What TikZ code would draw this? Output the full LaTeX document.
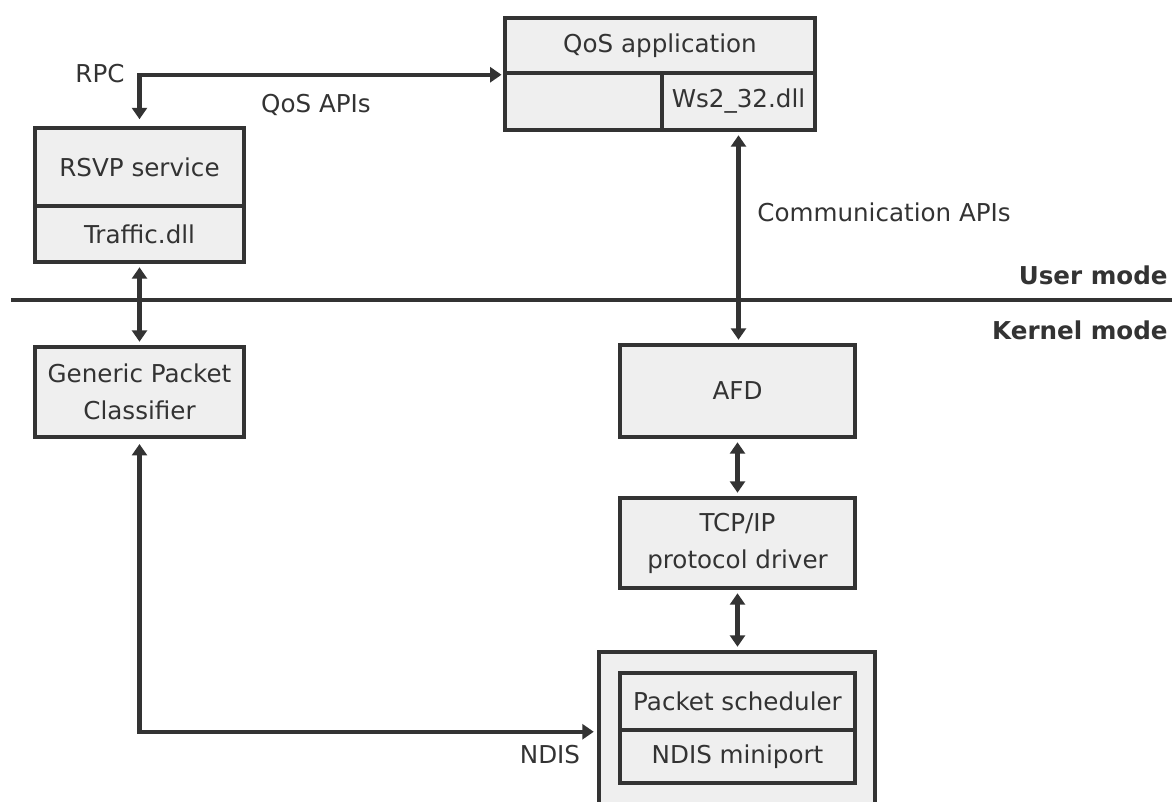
\documentclass[tikz,border=0pt]{standalone}
\usepackage{fontspec}
\setmainfont{DejaVu Sans}
\usetikzlibrary{arrows.meta}
\definecolor{linegray}{HTML}{333333}
\definecolor{boxgray}{HTML}{EFEFEF}
\tikzset{
  box/.style={draw=linegray, fill=boxgray, line width=2pt, inner sep=0pt, align=center, text=linegray, font=\fontsize{14}{21}\selectfont},
  link/.style={draw=linegray, line width=2.3pt, {Triangle[length=6.5pt,width=8.5pt]}-{Triangle[length=6.5pt,width=8.5pt]}},
  lbl/.style={inner sep=0pt, text=linegray, font=\fontsize{14}{20}\selectfont},
  modetext/.style={inner sep=0pt, anchor=east, text=linegray, font=\fontsize{14}{20}\selectfont\bfseries},
  modeline/.style={draw=linegray, line width=2.2pt}
}
\begin{document}
\begin{tikzpicture}[x=0.02cm, y=-0.02cm]
        \useasboundingbox (0,0) rectangle (1172,801);
        \clip (0,0) rectangle (1172,801);
        % user space
        \node[box, minimum width=6.2cm, minimum height=1.1cm] (qos) at (660,45.5) {QoS application};
        \node[box, minimum width=3.14cm, minimum height=1.14cm] (qosfree) at (583.5,101.5) {};
        \node[box, minimum width=3.06cm, minimum height=1.14cm] (ws2) at (738.5,101.5) {Ws2\_32.dll};
        \node[box, minimum width=4.18cm, minimum height=1.56cm] (rsvp) at (139.5,167) {RSVP service};
        \node[box, minimum width=4.18cm, minimum height=1.12cm] (traffic) at (139.5,234) {Traffic.dll};
        % kernel space
        \node[box, minimum width=4.18cm, minimum height=1.8cm] (gpc) at (139.5,392) {Generic Packet\\Classifier};
        \node[box, minimum width=4.7cm, minimum height=1.84cm] (afd) at (737.5,391) {AFD};
        \node[box, minimum width=4.7cm, minimum height=1.8cm] (tcpip) at (737.5,543) {TCP/IP\\protocol driver};
        \node[box, minimum width=5.52cm, minimum height=3.56cm] (ndis) at (737,741) {};
        \node[box, minimum width=4.7cm, minimum height=1.14cm] (sched) at (737.5,701.5) {Packet scheduler};
        \node[box, minimum width=4.7cm, minimum height=1.06cm] (miniport) at (737.5,756.5) {NDIS miniport};
        % mode line
        \coordinate (modeL) at (11,300);\coordinate (modeR) at (1172,300);
        \draw[modeline] (modeL) -- (modeR);
        % arrows
        \draw[link, shorten <=4pt, shorten >=1pt] (rsvp.north) |- (qos.south west);
        \draw[link, shorten <=2pt, shorten >=2pt] (traffic.south) -- (gpc.north);
        \draw[link, shorten <=3pt, shorten >=2pt] (gpc.south) |- (ndis.west |- sched.south);
        \draw[link, shorten <=2pt, shorten >=2pt] (ws2.south) -- (ws2.south |- afd.north);
        \draw[link, shorten <=2pt, shorten >=2pt] (afd.south) -- (tcpip.north);
        \draw[link, shorten <=2pt, shorten >=2pt] (tcpip.south) -- (tcpip.south |- ndis.north);
        % labels
        \node[lbl] (rpc) at (100,74) {RPC};
        \node[lbl] (qosapi) at (316,105) {QoS APIs};
        \node[lbl, anchor=west] (commapi) at (757,212) {Communication APIs};
        \node[lbl] (ndislbl) at (550,755) {NDIS};
        \node[modetext] (usermode) at (1168,275) {User mode};
        \node[modetext] (kernelmode) at (1168,330) {Kernel mode};
    \end{tikzpicture}
\end{document}
